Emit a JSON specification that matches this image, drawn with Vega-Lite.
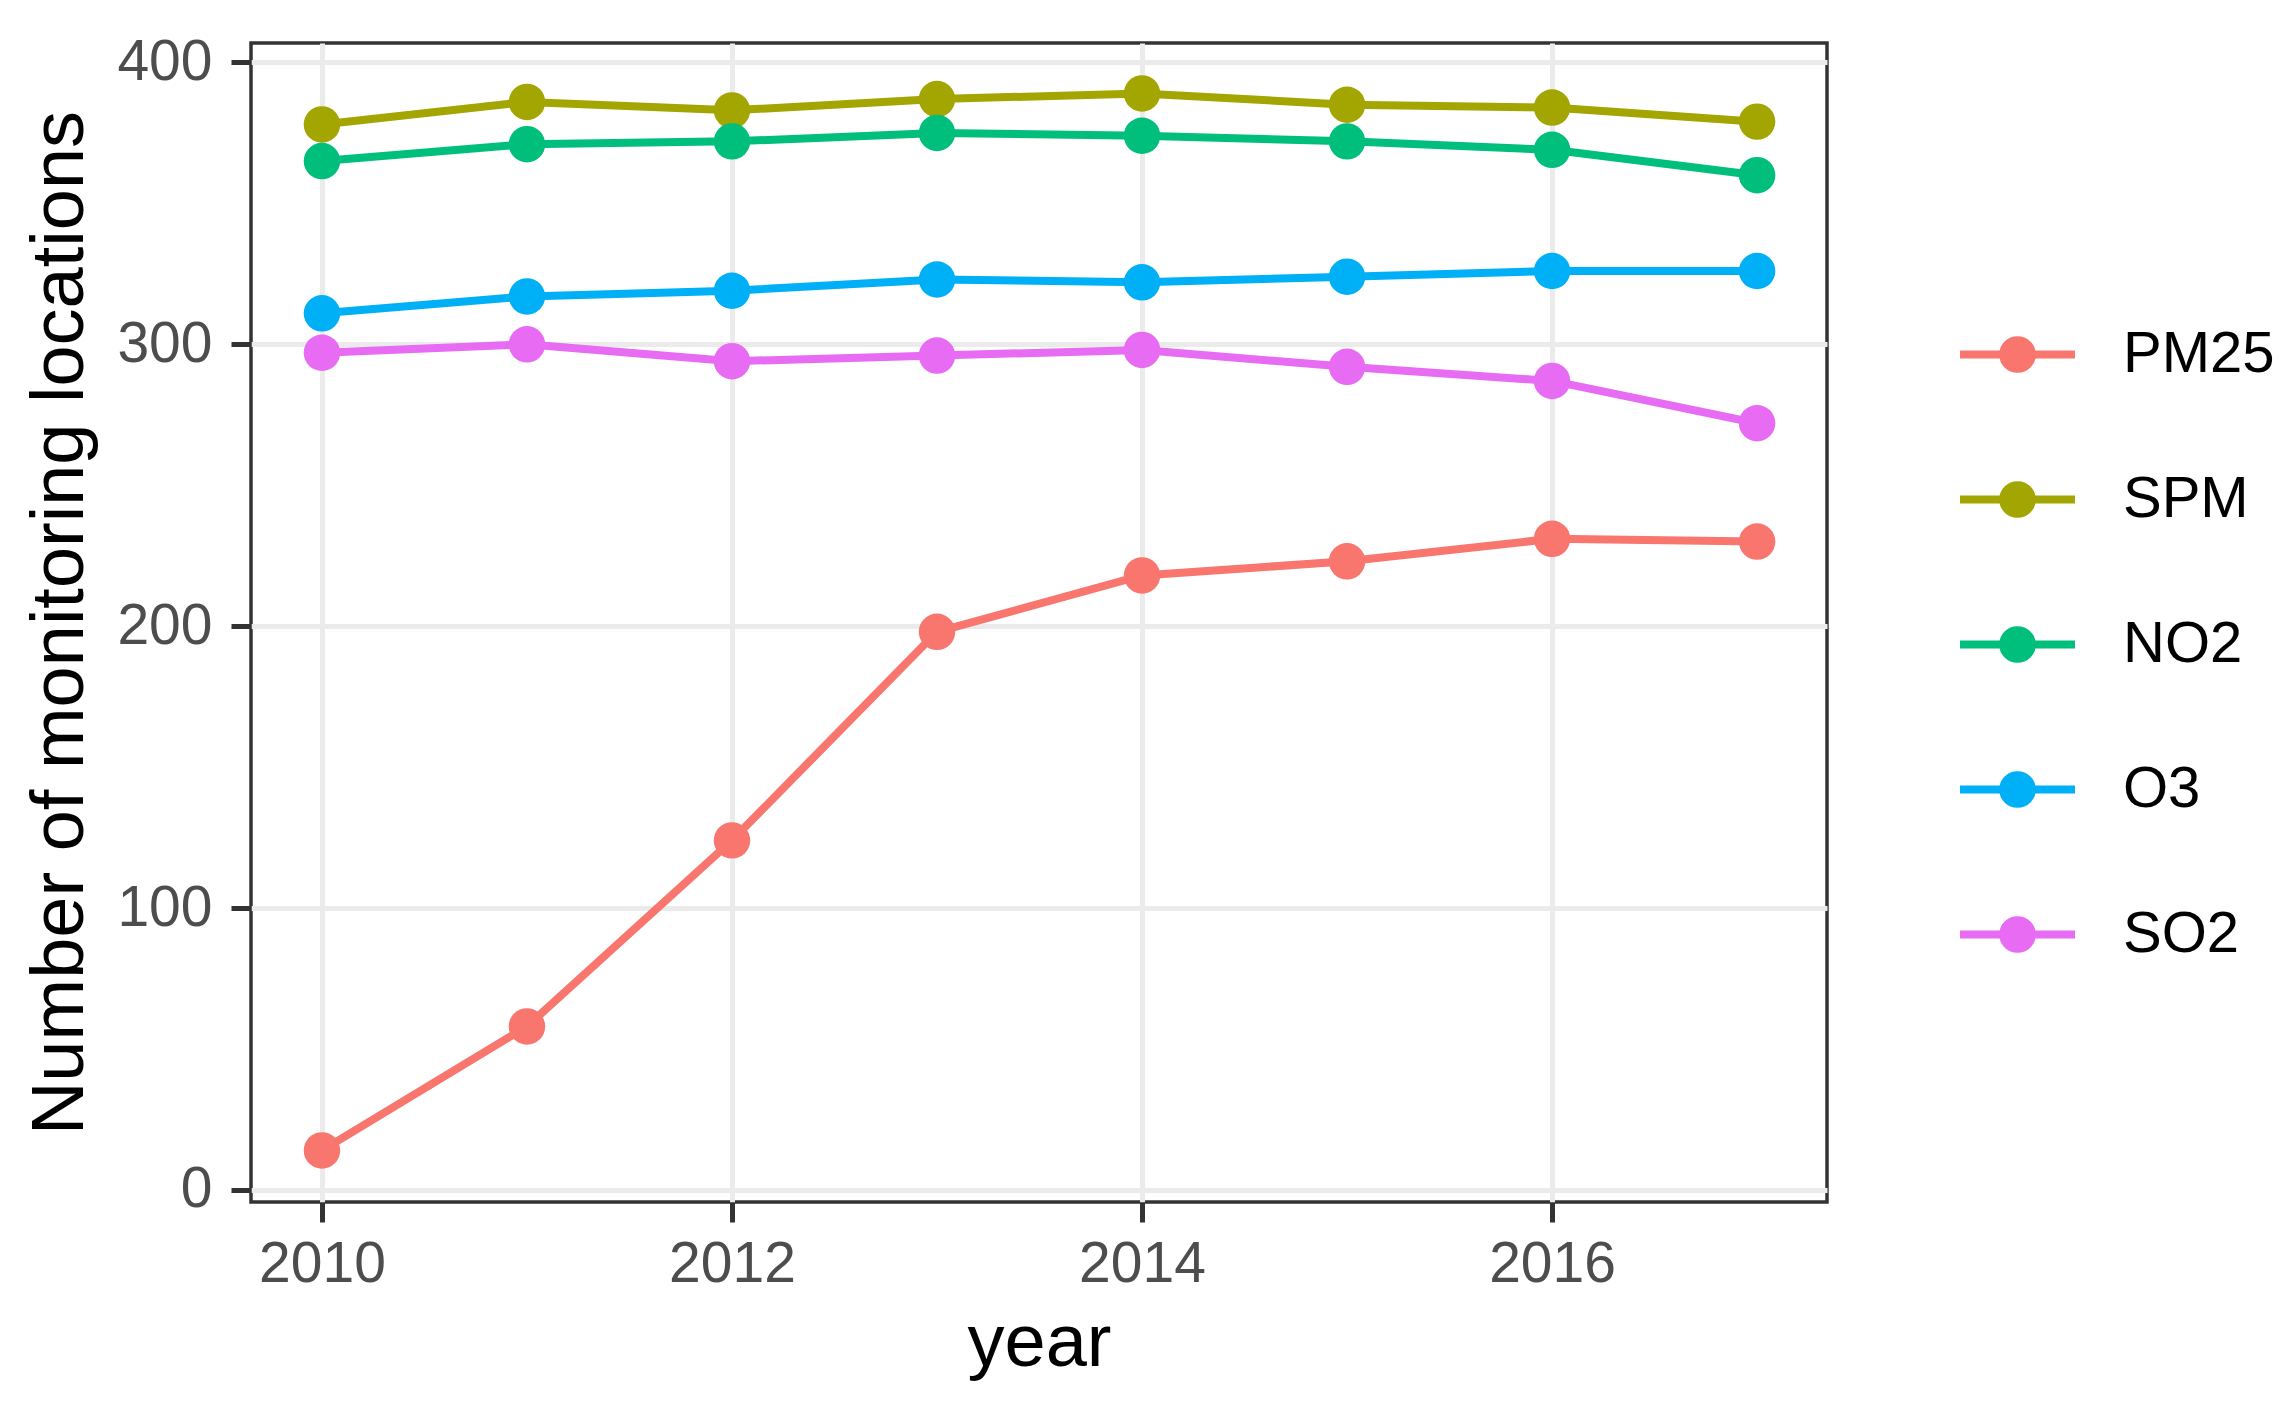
{
  "$schema": "https://vega.github.io/schema/vega-lite/v6.json",
  "autosize": "none",
  "width": 1576,
  "height": 1159,
  "padding": {"left": 251, "top": 43, "right": 469, "bottom": 208},
  "background": "white",
  "config": {
    "font": "Liberation Sans",
    "view": {"stroke": "#333333", "strokeWidth": 3.5},
    "axis": {
      "domain": false,
      "grid": true,
      "gridColor": "#EBEBEB",
      "gridWidth": 5,
      "tickColor": "#333333",
      "tickWidth": 5,
      "tickSize": 20,
      "labelColor": "#4D4D4D",
      "labelFontSize": 57,
      "labelFont": "Liberation Sans",
      "titleFont": "Liberation Sans",
      "titleFontSize": 74,
      "titleFontWeight": "normal",
      "titleColor": "#000000"
    }
  },
  "data": {
    "values": [
      {"year": 2010, "pollutant": "PM25", "count": 14},
      {"year": 2011, "pollutant": "PM25", "count": 58},
      {"year": 2012, "pollutant": "PM25", "count": 124},
      {"year": 2013, "pollutant": "PM25", "count": 198},
      {"year": 2014, "pollutant": "PM25", "count": 218},
      {"year": 2015, "pollutant": "PM25", "count": 223},
      {"year": 2016, "pollutant": "PM25", "count": 231},
      {"year": 2017, "pollutant": "PM25", "count": 230},
      {"year": 2010, "pollutant": "SPM", "count": 378},
      {"year": 2011, "pollutant": "SPM", "count": 386},
      {"year": 2012, "pollutant": "SPM", "count": 383},
      {"year": 2013, "pollutant": "SPM", "count": 387},
      {"year": 2014, "pollutant": "SPM", "count": 389},
      {"year": 2015, "pollutant": "SPM", "count": 385},
      {"year": 2016, "pollutant": "SPM", "count": 384},
      {"year": 2017, "pollutant": "SPM", "count": 379},
      {"year": 2010, "pollutant": "NO2", "count": 365},
      {"year": 2011, "pollutant": "NO2", "count": 371},
      {"year": 2012, "pollutant": "NO2", "count": 372},
      {"year": 2013, "pollutant": "NO2", "count": 375},
      {"year": 2014, "pollutant": "NO2", "count": 374},
      {"year": 2015, "pollutant": "NO2", "count": 372},
      {"year": 2016, "pollutant": "NO2", "count": 369},
      {"year": 2017, "pollutant": "NO2", "count": 360},
      {"year": 2010, "pollutant": "O3", "count": 311},
      {"year": 2011, "pollutant": "O3", "count": 317},
      {"year": 2012, "pollutant": "O3", "count": 319},
      {"year": 2013, "pollutant": "O3", "count": 323},
      {"year": 2014, "pollutant": "O3", "count": 322},
      {"year": 2015, "pollutant": "O3", "count": 324},
      {"year": 2016, "pollutant": "O3", "count": 326},
      {"year": 2017, "pollutant": "O3", "count": 326},
      {"year": 2010, "pollutant": "SO2", "count": 297},
      {"year": 2011, "pollutant": "SO2", "count": 300},
      {"year": 2012, "pollutant": "SO2", "count": 294},
      {"year": 2013, "pollutant": "SO2", "count": 296},
      {"year": 2014, "pollutant": "SO2", "count": 298},
      {"year": 2015, "pollutant": "SO2", "count": 292},
      {"year": 2016, "pollutant": "SO2", "count": 287},
      {"year": 2017, "pollutant": "SO2", "count": 272}
    ]
  },
  "encoding": {
    "x": {
      "field": "year",
      "type": "quantitative",
      "scale": {"domain": [2009.654, 2017.341], "nice": false, "zero": false},
      "axis": {"values": [2010, 2012, 2014, 2016], "format": "d", "title": "year", "labelPadding": 14, "titlePadding": 15}
    },
    "y": {
      "field": "count",
      "type": "quantitative",
      "scale": {"domain": [-4.3, 406.9], "nice": false, "zero": false},
      "axis": {"values": [0, 100, 200, 300, 400], "title": "Number of monitoring locations", "labelPadding": 19, "titlePadding": 18}
    },
    "color": {
      "field": "pollutant",
      "type": "nominal",
      "scale": {
        "domain": ["PM25", "SPM", "NO2", "O3", "SO2"],
        "range": ["#F8766D", "#A3A500", "#00BF7D", "#00B0F6", "#E76BF3"]
      },
      "legend": {
        "title": null,
        "orient": "none",
        "legendX": 1705,
        "legendY": 250,
        "padding": 0,
        "symbolType": "M-1,0H1M0.249,0A0.249,0.249,0,1,1,-0.249,0A0.249,0.249,0,1,1,0.249,0Z",
        "symbolSize": 13225,
        "symbolStrokeWidth": 8,
        "labelFontSize": 58,
        "labelColor": "#000000",
        "labelFont": "Liberation Sans",
        "labelOffset": 44,
        "rowPadding": 53,
        "labelLimit": 400,
        "encode": {
          "symbols": {
            "update": {
              "fill": {"scale": "color", "field": "value"},
              "stroke": {"scale": "color", "field": "value"},
              "opacity": {"value": 1},
              "fillOpacity": {"value": 1},
              "strokeOpacity": {"value": 1}
            }
          }
        }
      }
    }
  },
  "layer": [
    {"mark": {"type": "line", "strokeWidth": 8}},
    {"mark": {"type": "point", "filled": true, "size": 1330, "opacity": 1, "strokeWidth": 0}}
  ]
}
